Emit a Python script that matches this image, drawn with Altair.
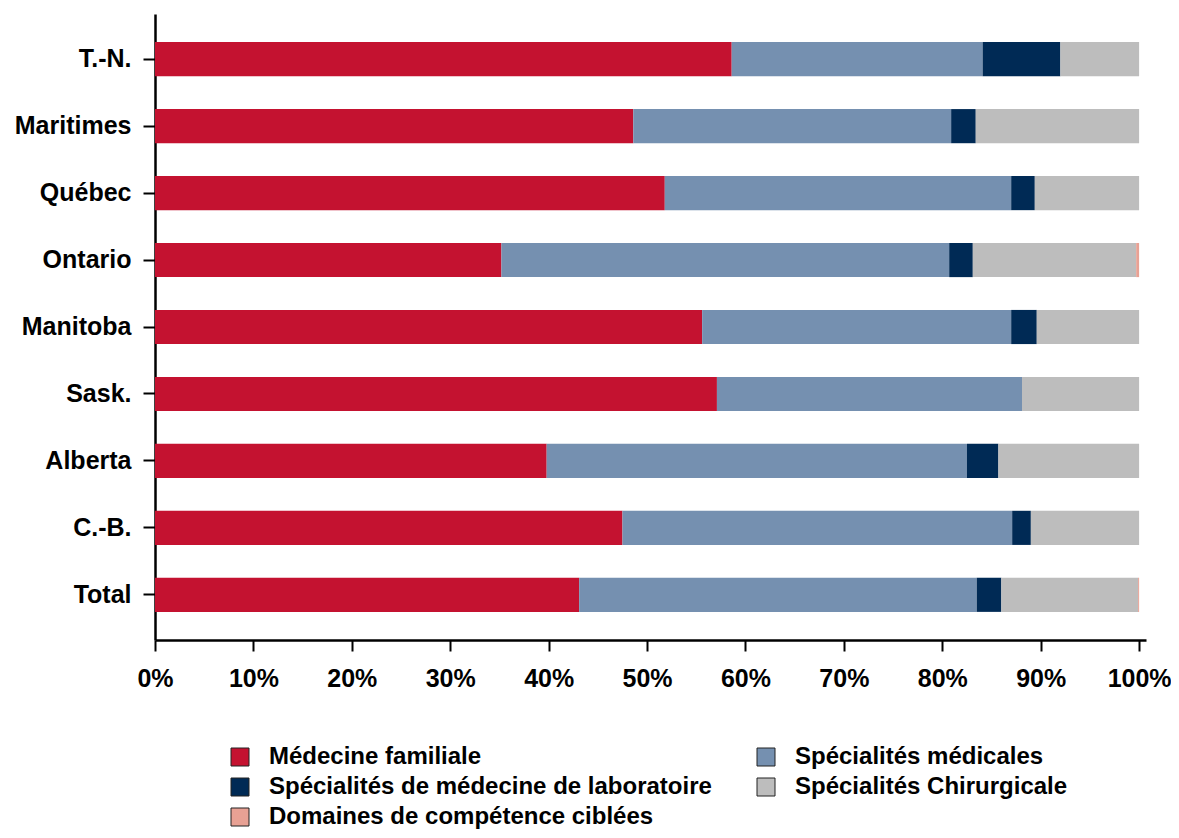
import altair as alt
import pandas as pd

regions = ["T.-N.", "Maritimes", "Québec", "Ontario", "Manitoba", "Sask.", "Alberta", "C.-B.", "Total"]
categories = [
    "Médecine familiale",
    "Spécialités médicales",
    "Spécialités de médecine de laboratoire",
    "Spécialités Chirurgicale",
    "Domaines de compétence ciblées",
]
colors = ["#C41230", "#7590B0", "#002A55", "#BDBDBD", "#E8A194"]

medecine_familiale = [58.6, 48.6, 51.8, 35.2, 55.6, 57.1, 39.8, 47.5, 43.1]
specialites_medicales = [25.5, 32.3, 35.2, 45.5, 31.4, 31.0, 42.7, 39.6, 40.4]
laboratoire = [7.9, 2.5, 2.4, 2.4, 2.6, 0.0, 3.2, 1.9, 2.5]
chirurgicale = [8.0, 16.6, 10.6, 16.6, 10.4, 11.9, 14.3, 11.0, 13.9]
competence = [0.0, 0.0, 0.0, 0.3, 0.0, 0.0, 0.0, 0.0, 0.1]

series = [medecine_familiale, specialites_medicales, laboratoire, chirurgicale, competence]
rows = []
for ci, (cat, vals) in enumerate(zip(categories, series)):
    for r, v in zip(regions, vals):
        rows.append({"region": r, "cat": cat, "value": v, "ord": ci})
df = pd.DataFrame(rows)

FONT = "Liberation Sans"

chart = alt.Chart(df).mark_bar().encode(
    y=alt.Y("region:N", sort=regions, title=None,
            scale=alt.Scale(paddingInner=0.49, paddingOuter=0.42),
            axis=alt.Axis(labelFont=FONT, labelFontSize=25, labelFontWeight="bold",
                          labelColor="black", labelPadding=12, tickSize=12,
                          tickWidth=2, tickColor="black", domainColor="black",
                          domainWidth=2.5)),
    x=alt.X("value:Q", stack="zero", title=None,
            scale=alt.Scale(domain=[0, 100.7], nice=False),
            axis=alt.Axis(values=list(range(0, 101, 10)), labelExpr="datum.value + '%'",
                          labelFont=FONT, labelFontSize=25, labelFontWeight="bold",
                          labelColor="black", labelPadding=15, tickSize=11,
                          tickWidth=2, tickColor="black", domainColor="black",
                          domainWidth=2.5, grid=False, labelFlush=False)),
    color=alt.Color("cat:N", sort=categories,
                    scale=alt.Scale(domain=categories, range=colors),
                    legend=alt.Legend(title=None, orient="none", legendX=73, legendY=731,
                                      columns=2, direction="horizontal",
                                      symbolType="square", symbolSize=324,
                                      symbolStrokeColor="#222", symbolStrokeWidth=1,
                                      labelFont=FONT, labelFontSize=24, labelFontWeight="bold",
                                      labelColor="black", labelOffset=17,
                                      rowPadding=6, columnPadding=42, labelLimit=700)),
    order=alt.Order("ord:Q"),
).properties(
    width=991,
    height=626,
    padding={"left": 147, "top": 6, "right": 25, "bottom": 190},
    autosize=alt.AutoSizeParams(type="none"),
).configure_view(stroke=None)

chart.save("out.html", embed_options={"renderer": "svg", "actions": False})
